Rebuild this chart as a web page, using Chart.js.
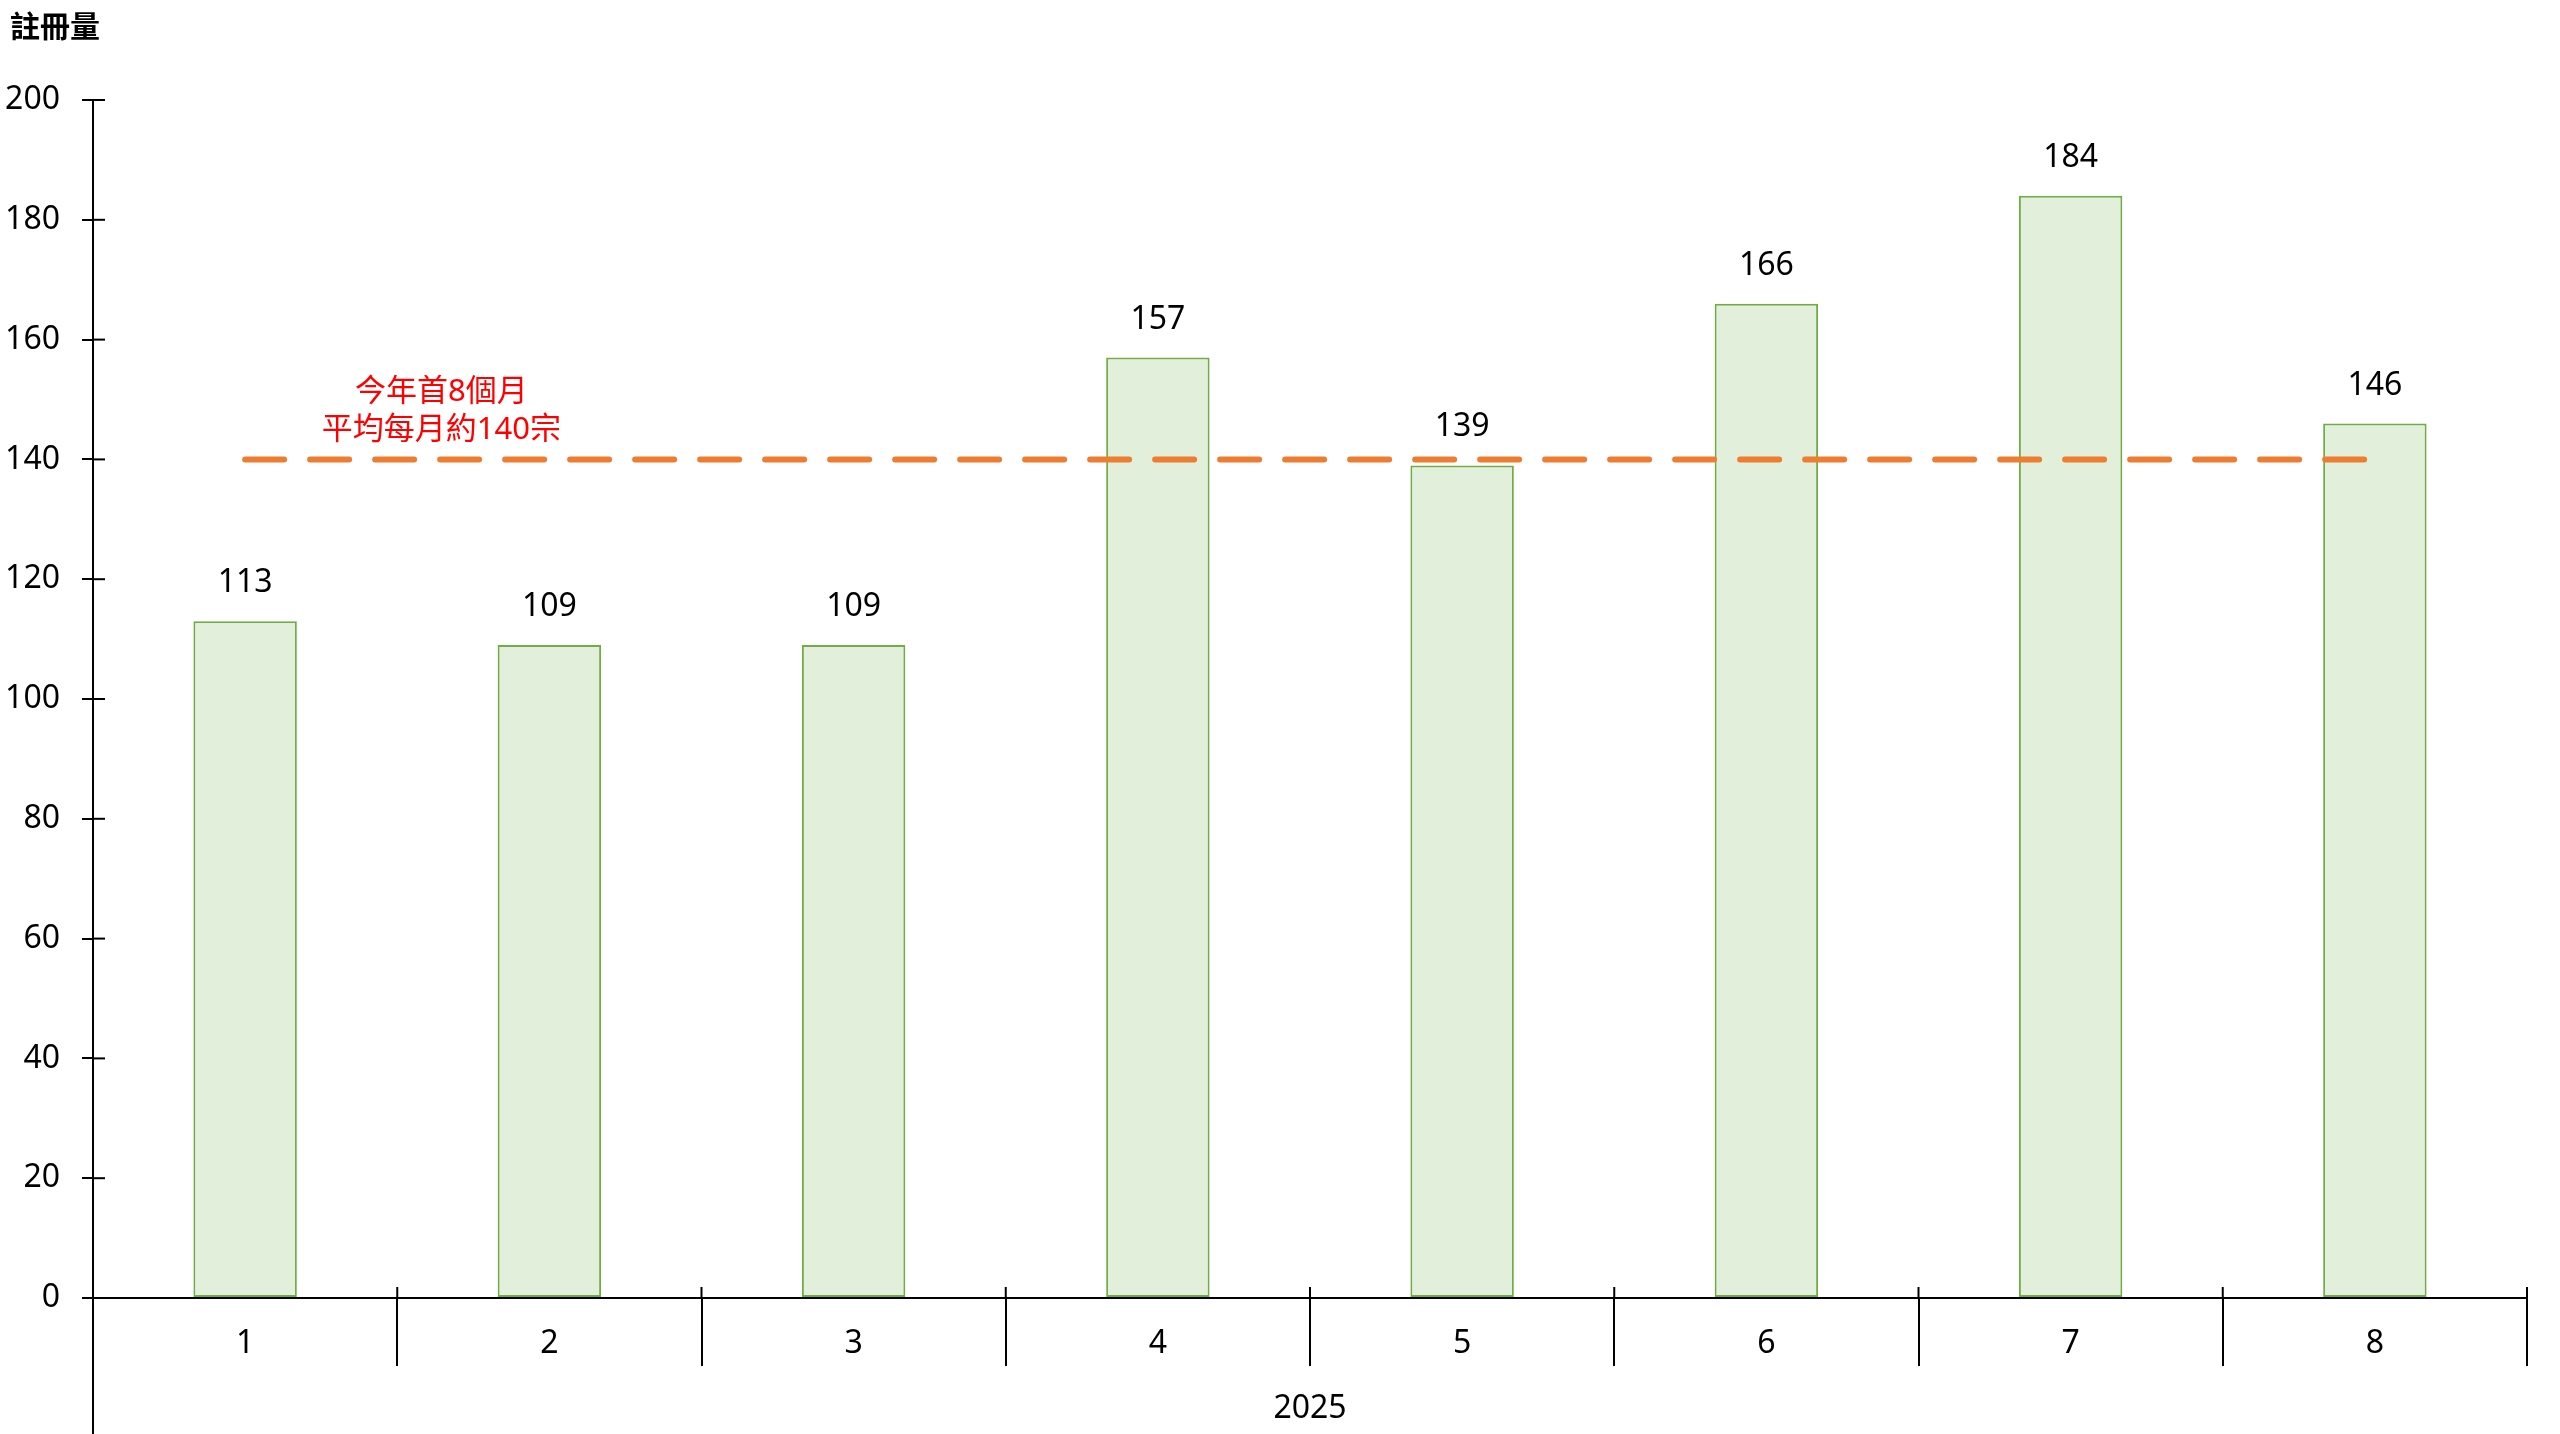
<!DOCTYPE html>
<html>
<head>
<meta charset="utf-8">
<script src="https://cdn.jsdelivr.net/npm/chart.js@4"></script>
<style>
  html, body { margin: 0; padding: 0; background: #fff; }
  canvas { display: block; }
</style>
</head>
<body>
<canvas id="chart" width="2560" height="1434" style="width:2560px;height:1434px"></canvas>
<script>
// Chart data
const categories = ['1', '2', '3', '4', '5', '6', '7', '8'];
const registrations = [113, 109, 109, 157, 139, 166, 184, 146];
const averageLine = [140, 140, 140, 140, 140, 140, 140, 140];
const yMin = 0;
const yMax = 200;
const yStep = 20;
const yearLabel = '2025';
const yAxisTitle = '註冊量';
const noteLines = ['今年首8個月', '平均每月約140宗'];

const FONT = "'Noto Sans', 'Noto Sans CJK TC', sans-serif";

// Extra drawing: axis extensions, data labels, titles, note
const extrasPlugin = {
    id: 'extras',
    afterDatasetsDraw(chart) {
        const ctx = chart.ctx;
        const xScale = chart.scales.x;
        const yScale = chart.scales.y;
        const area = chart.chartArea;

        ctx.save();
        ctx.strokeStyle = '#000';
        ctx.lineWidth = 2;

        // y axis continues below the x axis
        ctx.beginPath();
        ctx.moveTo(area.left, area.bottom);
        ctx.lineTo(area.left, chart.height);
        ctx.stroke();

        // y ticks cross the axis
        yScale.ticks.forEach(t => {
            const y = yScale.getPixelForValue(t.value);
            ctx.beginPath();
            ctx.moveTo(area.left, y);
            ctx.lineTo(area.left + 12, y);
            ctx.stroke();
        });

        // x separators poke above the axis
        const step = xScale.getPixelForValue(1) - xScale.getPixelForValue(0);
        for (let i = 0; i <= categories.length; i++) {
            const x = xScale.getPixelForValue(0) - step / 2 + i * step;
            ctx.beginPath();
            ctx.moveTo(x, area.bottom - 11);
            ctx.lineTo(x, area.bottom);
            ctx.stroke();
        }

        // data labels above bars (bar dataset is index 1)
        ctx.fillStyle = '#000';
        ctx.font = '32px ' + FONT;
        ctx.textAlign = 'center';
        ctx.textBaseline = 'middle';
        chart.getDatasetMeta(1).data.forEach((bar, i) => {
            ctx.fillText(String(registrations[i]), bar.x, bar.y - 38);
        });

        // axis title top-left
        ctx.font = 'bold 30px ' + FONT;
        ctx.textAlign = 'left';
        ctx.fillText(yAxisTitle, 10, 28);

        // note above the average line
        ctx.fillStyle = '#FF0000';
        ctx.font = '31px ' + FONT;
        ctx.textAlign = 'center';
        const noteX = xScale.getPixelForValue(0) + step * 0.645;
        const lineY = yScale.getPixelForValue(averageLine[0]);
        ctx.fillText(noteLines[0], noteX, lineY - 67);
        ctx.fillText(noteLines[1], noteX, lineY - 29);

        ctx.restore();
    }
};

const ctx = document.getElementById('chart');

new Chart(ctx, {
    data: {
        labels: categories,
        datasets: [
            {
                type: 'line',
                data: averageLine,
                borderColor: '#ED7D31',
                borderWidth: 6,
                borderDash: [39, 26],
                borderCapStyle: 'round',
                pointRadius: 0,
                fill: false,
                order: 0
            },
            {
                type: 'bar',
                data: registrations,
                backgroundColor: '#E2EFDA',
                borderColor: '#70AD47',
                borderWidth: 2,
                borderSkipped: false,
                barPercentage: 0.34,
                categoryPercentage: 1,
                order: 1
            }
        ]
    },
    options: {
        responsive: false,
        devicePixelRatio: 1,
        animation: false,
        layout: {
            padding: { top: 100, right: 33, bottom: 0, left: 0 }
        },
        plugins: {
            legend: { display: false },
            tooltip: { enabled: false }
        },
        scales: {
            x: {
                offset: true,
                grid: {
                    offset: true,
                    drawOnChartArea: false,
                    drawTicks: true,
                    tickLength: 68,
                    color: '#000',
                    lineWidth: 2
                },
                border: { display: true, color: '#000', width: 2 },
                ticks: {
                    color: '#000',
                    font: { family: FONT, size: 32 },
                    padding: -41,
                    maxRotation: 0
                },
                title: {
                    display: true,
                    text: yearLabel,
                    color: '#000',
                    font: { family: FONT, size: 32 },
                    padding: { top: 0, bottom: 6 }
                },
                afterFit(scale) { scale.height = 136; }
            },
            y: {
                min: yMin,
                max: yMax,
                ticks: {
                    stepSize: yStep,
                    color: '#000',
                    font: { family: FONT, size: 32 },
                    padding: 22
                },
                grid: {
                    drawOnChartArea: false,
                    drawTicks: true,
                    tickLength: 11,
                    color: '#000',
                    lineWidth: 2
                },
                border: { display: true, color: '#000', width: 2 },
                afterFit(scale) { scale.width = 93; }
            }
        }
    },
    plugins: [extrasPlugin]
});
</script>
</body>
</html>
